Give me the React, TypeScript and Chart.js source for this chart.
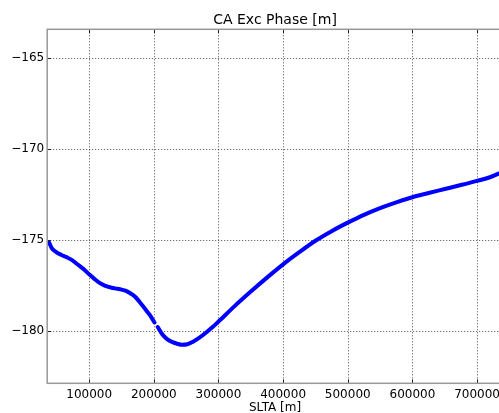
import React, { useEffect, useRef } from "react";
import { Chart, registerables } from "chart.js";
Chart.register(...registerables);

const chartTitle = "CA Exc Phase [m]";
const xAxisTitle = "SLTA [m]";

// segment before the small gap
const seg1X = [38000, 42000, 49000, 57000, 65000, 73000, 80000, 90000, 100000, 108000, 116000, 124000, 132000, 140000, 148000, 156000, 163000, 171000, 178000, 186000, 194000, 201000];
const seg1Y = [-175.15, -175.45, -175.68, -175.83, -175.95, -176.1, -176.3, -176.57, -176.9, -177.15, -177.37, -177.52, -177.61, -177.67, -177.72, -177.8, -177.93, -178.13, -178.42, -178.78, -179.15, -179.55];
// segment after the gap
const seg2X = [206000, 213000, 220000, 228000, 236000, 244000, 252000, 260000, 270000, 280000, 290000, 300000, 325000, 350000, 375000, 400000, 425000, 450000, 475000, 500000, 525000, 550000, 575000, 600000, 625000, 650000, 675000, 700000, 720000, 740000];
const seg2Y = [-179.8, -180.2, -180.45, -180.62, -180.72, -180.78, -180.75, -180.62, -180.4, -180.13, -179.83, -179.5, -178.65, -177.85, -177.08, -176.35, -175.68, -175.05, -174.52, -174.05, -173.62, -173.25, -172.93, -172.65, -172.42, -172.2, -171.98, -171.75, -171.55, -171.25];

const xTicks = [100000, 200000, 300000, 400000, 500000, 600000, 700000];
const yTicks = [-180, -175, -170, -165];
const xMin = 35000;
const xMax = 740000;
const yMin = -182.9;
const yMax = -163.4;

const FONT = "'DejaVu Sans', sans-serif";
const CW = 504;
const CH = 415;

const framePlugin = {
  id: "frame",
  beforeDatasetsDraw(chart: any) {
    const { ctx, chartArea: a, scales } = chart;
    const x = scales.x, y = scales.y;
    ctx.save();
    ctx.strokeStyle = "rgba(0,0,0,0.7)";
    ctx.lineWidth = 1;
    ctx.setLineDash([1, 2]);
    for (const v of xTicks) {
      const px = Math.round(x.getPixelForValue(v)) + 0.5;
      ctx.beginPath(); ctx.moveTo(px, a.top); ctx.lineTo(px, a.bottom); ctx.stroke();
    }
    for (const v of yTicks) {
      const py = Math.round(y.getPixelForValue(v)) + 0.5;
      ctx.beginPath(); ctx.moveTo(a.left, py); ctx.lineTo(a.right, py); ctx.stroke();
    }
    ctx.restore();
  },
  afterDatasetsDraw(chart: any) {
    const { ctx, chartArea: a, scales } = chart;
    const x = scales.x, y = scales.y;
    ctx.save();
    ctx.strokeStyle = "#222";
    ctx.lineWidth = 1;
    for (const v of xTicks) {
      const px = Math.round(x.getPixelForValue(v)) + 0.5;
      ctx.beginPath(); ctx.moveTo(px, a.top); ctx.lineTo(px, a.top + 4); ctx.stroke();
      ctx.beginPath(); ctx.moveTo(px, a.bottom); ctx.lineTo(px, a.bottom - 4); ctx.stroke();
    }
    for (const v of yTicks) {
      const py = Math.round(y.getPixelForValue(v)) + 0.5;
      ctx.beginPath(); ctx.moveTo(a.left, py); ctx.lineTo(a.left + 4, py); ctx.stroke();
      ctx.beginPath(); ctx.moveTo(a.right, py); ctx.lineTo(a.right - 4, py); ctx.stroke();
    }
    ctx.strokeStyle = "#999";
    ctx.lineWidth = 1.5;
    ctx.strokeRect(a.left, a.top, a.right - a.left, a.bottom - a.top);
    ctx.restore();
  },
};

export default function App() {
  const ref = useRef<HTMLCanvasElement | null>(null);
  useEffect(() => {
    if (!ref.current) return;
    const mk = (xs: number[], ys: number[]) => xs.map((v, i) => ({ x: v, y: ys[i] }));
    const lineStyle = {
      borderColor: "#0000ff",
      backgroundColor: "#0000ff",
      borderWidth: 4,
      pointRadius: 0,
      cubicInterpolationMode: "monotone" as const,
      borderCapStyle: "round" as const,
      borderJoinStyle: "round" as const,
      fill: false,
    };
    const chart = new Chart(ref.current, {
      type: "line",
      data: {
        datasets: [
          { ...lineStyle, data: mk(seg1X, seg1Y) },
          { ...lineStyle, data: mk(seg2X, seg2Y) },
        ],
      },
      plugins: [framePlugin],
      options: {
        responsive: false,
        animation: false,
        layout: { padding: 0 },
        plugins: { legend: { display: false }, tooltip: { enabled: false }, title: { display: false } },
        scales: {
          x: {
            type: "linear",
            position: "bottom",
            min: xMin,
            max: xMax,
            afterBuildTicks: (s: any) => { s.ticks = xTicks.map((v) => ({ value: v })); },
            afterFit: (s: any) => { s.height = CH - 383.3; },
            grid: { display: false, drawTicks: false },
            border: { display: false },
            ticks: {
              padding: 4,
              maxRotation: 0,
              autoSkip: false,
              color: "#000",
              font: { family: FONT, size: 12 },
              callback: (v: any) => String(v),
            },
            title: {
              display: true,
              text: xAxisTitle,
              color: "#000",
              font: { family: FONT, size: 12 },
              padding: { top: 0, bottom: 0 },
            },
          },
          x2: {
            type: "linear",
            position: "top",
            min: xMin,
            max: xMax,
            afterFit: (s: any) => { s.height = 29.3; },
            grid: { display: false, drawTicks: false },
            border: { display: false },
            ticks: { display: false },
            title: {
              display: true,
              text: chartTitle,
              color: "#000",
              font: { family: FONT, size: 14 },
              padding: { top: 11.5, bottom: 0 },
            },
          },
          y: {
            type: "linear",
            min: yMin,
            max: yMax,
            afterBuildTicks: (s: any) => { s.ticks = yTicks.map((v) => ({ value: v })); },
            afterFit: (s: any) => { s.width = 47.2; },
            grid: { display: false, drawTicks: false },
            border: { display: false },
            ticks: {
              padding: 3,
              color: "#000",
              font: { family: FONT, size: 12 },
              callback: (v: any) => (v < 0 ? "\u2212" + Math.abs(v) : String(v)),
            },
          },
        },
      },
    });
    return () => chart.destroy();
  }, []);
  return (
    <div style={{ position: "absolute", left: 0, top: 0, width: 499, height: 413, overflow: "hidden", background: "#fff" }}>
      <canvas ref={ref} width={CW} height={CH} style={{ display: "block", width: CW, height: CH }} />
    </div>
  );
}
